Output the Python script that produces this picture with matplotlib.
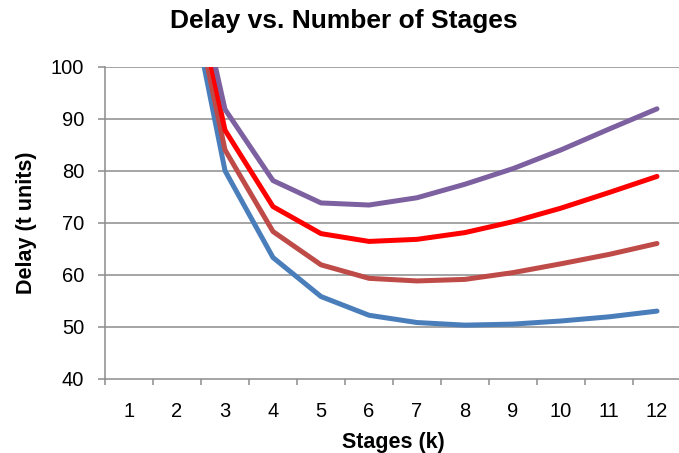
import numpy as np
import matplotlib
matplotlib.use("Agg")
import matplotlib.pyplot as plt

plt.rcParams['font.family'] = ['Liberation Sans', 'DejaVu Sans']

# Stages k and delay for four cases (values at k=1,2 lie above the plotted range)
stages = list(range(1, 13))
delay_blue = [256, 126, 80.0, 63.3, 55.8, 52.2, 50.8, 50.3, 50.5, 51.1, 51.9, 53.0]
delay_brown = [257, 128, 84.0, 68.3, 61.9, 59.3, 58.8, 59.1, 60.4, 62.1, 63.9, 66.0]
delay_red = [259, 130.5, 87.8, 73.1, 67.9, 66.4, 66.8, 68.1, 70.2, 72.8, 75.8, 78.9]
delay_purple = [260, 133, 91.8, 78.1, 73.8, 73.4, 74.8, 77.4, 80.4, 84.0, 88.0, 91.9]

series = [
    (delay_blue, '#4A7EBB'),
    (delay_brown, '#BE4B48'),
    (delay_red, '#FF0000'),
    (delay_purple, '#7D60A0'),
]

fig = plt.figure(figsize=(6.79, 4.53), dpi=100)
ax = fig.add_axes([105 / 679, 74.3 / 453, 576 / 679, 312 / 453])

grid_col = '#8C8C8C'
for y in range(50, 101, 10):
    ax.axhline(y, color=grid_col, lw=1.1, zorder=1)

for vals, col in series:
    ax.plot(stages, vals, color=col, lw=3.6, solid_capstyle='round',
            solid_joinstyle='round', zorder=3)

ax.set_xlim(0.5, 12.5)
ax.set_ylim(40, 100)

# category labels at centers, tick marks between categories
ax.set_xticks(stages)
ax.set_xticklabels([str(s) for s in stages])
ax.set_xticks(np.arange(0.5, 12.6, 1.0), minor=True)
ax.tick_params(axis='x', which='major', length=0, pad=17, labelsize=14.5)
ax.tick_params(axis='x', which='minor', length=4.5, width=1.1, color=grid_col, direction='out')

ax.set_yticks(range(40, 101, 10))
ax.tick_params(axis='y', length=5, width=1.1, color=grid_col, pad=10, labelsize=14.5)

for side in ['top', 'right']:
    ax.spines[side].set_visible(False)
for side in ['left', 'bottom']:
    ax.spines[side].set_color(grid_col)
    ax.spines[side].set_linewidth(1.1)

ax.set_xlabel('Stages (k)', fontsize=15.5, fontweight='bold', labelpad=8)
ax.set_ylabel('Delay (t units)', fontsize=15.5, fontweight='bold', labelpad=10)
fig.text(344 / 679, 1 - 21 / 453, 'Delay vs. Number of Stages', ha='center', va='center',
         fontsize=19, fontweight='bold')

fig.savefig('out.png', dpi=100)
